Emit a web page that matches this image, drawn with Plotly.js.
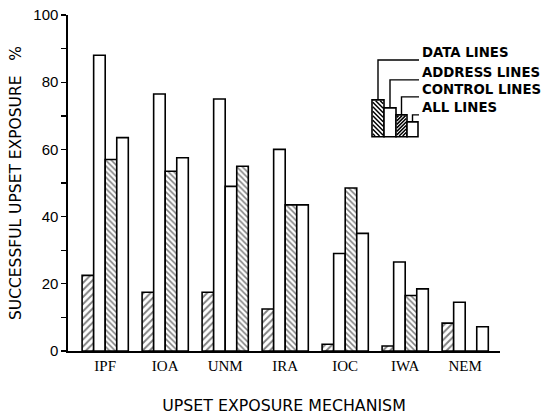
<!DOCTYPE html>
<html>
<head>
<meta charset="utf-8">
<script src="https://cdn.plot.ly/plotly-3.0.1.min.js"></script>
<style>html,body{margin:0;padding:0;background:#fff;}#chart{width:550px;height:415px;}</style>
</head>
<body>
<div id="chart"></div>
<script>
// ---- data ----
var mechanisms = ["IPF", "IOA", "UNM", "IRA", "IOC", "IWA", "NEM"];
var seriesNames = ["DATA LINES", "ADDRESS LINES", "CONTROL LINES", "ALL LINES"];
var dataLines    = [22.5, 17.5, 17.5, 12.5, 2.0, 1.5, 8.3];
var addressLines = [88.0, 76.5, 75.0, 60.0, 29.0, 26.5, 14.5];
var controlLines = [57.0, 53.5, 49.0, 43.5, 48.5, 16.5, 0];
var allLines     = [63.5, 57.5, 55.0, 43.5, 35.0, 18.5, 7.2];
// in the figure the UNM control/all bars carry each other's fill (control open, all hatched)
var swappedFill  = ["UNM"];
var yTickVals = [0, 10, 20, 30, 40, 50, 60, 70, 80, 90, 100];
var yTickText = ["0", "", "20", "", "40", "", "60", "", "80", "", "100"];

// ---- styling ----
var L = 68, R = 50, T = 15, B = 63.5, W = 550 - L - R, H = 415 - T - B;
function px(x) { return (x - L) / W; }
function py(y) { return (T + H - y) / H; }
var SANS = "DejaVu Sans, Liberation Sans, Arial, sans-serif";

var controlShape = mechanisms.map(function (m) { return swappedFill.indexOf(m) >= 0 ? "" : "\\"; });
var allShape = mechanisms.map(function (m) { return swappedFill.indexOf(m) >= 0 ? "\\" : ""; });

function barTrace(name, vals, shape, size) {
  var mk = { color: "white", line: { color: "black", width: 1.6 } };
  if (shape) mk.pattern = { shape: shape, size: size, solidity: 0.38, fgcolor: "black", bgcolor: "white", fillmode: "overlay" };
  return { type: "bar", name: name, x: mechanisms, y: vals, marker: mk, showlegend: false, hoverinfo: "x+y" };
}
var traces = [
  barTrace(seriesNames[0], dataLines, "/", 5),
  barTrace(seriesNames[1], addressLines, "", 5),
  barTrace(seriesNames[2], controlLines, controlShape, 4),
  barTrace(seriesNames[3], allLines, allShape, 4)
];

// ---- custom legend (mini bars with leader lines) ----
var shapes = [];
function rectPx(x0, y0, x1, y1) {
  shapes.push({ type: "rect", xref: "paper", yref: "paper", x0: px(x0), x1: px(x1), y0: py(y1), y1: py(y0),
    line: { color: "black", width: 1.6 }, fillcolor: "white", layer: "above" });
}
function hatchPx(x0, y0, x1, y1, step, dir) {
  var d = "";
  var w = x1 - x0, h = y1 - y0;
  for (var c = step / 2; c < w + h; c += step) {
    var ax = x0 + Math.max(0, c - h), bx = x0 + Math.min(c, w), ay, by;
    if (dir === "/") { ay = y1 - Math.min(c, h); by = y1 - Math.max(0, c - w); }
    else { ay = y0 + Math.min(c, h); by = y0 + Math.max(0, c - w); }
    d += "M" + px(ax) + "," + py(ay) + " L" + px(bx) + "," + py(by) + " ";
  }
  shapes.push({ type: "path", xref: "paper", yref: "paper", path: d, line: { color: "black", width: 1.5 }, layer: "above" });
}
function linePx(pts) {
  var d = "M" + pts.map(function (p) { return px(p[0]) + "," + py(p[1]); }).join(" L");
  shapes.push({ type: "path", xref: "paper", yref: "paper", path: d, line: { color: "black", width: 1.4 }, layer: "above" });
}
var legBase = 137;
var legBoxes = [[372, 100, 384, "/", 4.5], [384, 108, 396, "", 0], [396, 115, 407, "\\", 3.5], [407, 122, 418, "", 0]];
var legTextY = [53, 73, 90, 108];
var annotations = [];
legBoxes.forEach(function (b, i) {
  rectPx(b[0], b[1], b[2], legBase);
  if (b[3]) hatchPx(b[0] + 0.8, b[1] + 0.8, b[2] - 0.8, legBase - 0.8, b[4], b[3]);
  var cx = (b[0] + b[2]) / 2;
  var ly = legTextY[i] + 7;
  linePx([[cx, b[1]], [cx, ly], [419, ly]]);
  annotations.push({ xref: "paper", yref: "paper", x: px(420), y: py(legTextY[i]), xanchor: "left", yanchor: "middle",
    text: "<b>" + seriesNames[i] + "</b>", showarrow: false, font: { family: SANS, size: 13.3, color: "black" } });
});

var layout = {
  width: 550, height: 415,
  margin: { l: L, r: R, t: T, b: B },
  paper_bgcolor: "white", plot_bgcolor: "white",
  barmode: "group", bargap: 0.23, bargroupgap: 0,
  font: { family: SANS, color: "black" },
  xaxis: {
    range: [-0.62, 6.58], showgrid: false, zeroline: false,
    showline: true, linecolor: "black", linewidth: 1.6, ticks: "",
    tickfont: { family: "Liberation Serif, serif", size: 15, color: "black" },
    title: { text: "UPSET EXPOSURE MECHANISM", font: { family: SANS, size: 15.8, color: "black" }, standoff: 27 }
  },
  yaxis: {
    range: [0, 100], showgrid: false, zeroline: false,
    showline: true, linecolor: "black", linewidth: 1.6,
    ticks: "outside", ticklen: 5, tickwidth: 1.4, tickcolor: "black",
    tickvals: yTickVals, ticktext: yTickText,
    tickfont: { family: "Liberation Sans, Arial, sans-serif", size: 15, color: "black" },
    title: { text: "SUCCESSFUL UPSET EXPOSURE   %", font: { family: SANS, size: 15.5, color: "black" }, standoff: 8 }
  },
  shapes: shapes,
  annotations: annotations
};
Plotly.newPlot("chart", traces, layout, { displayModeBar: false, staticPlot: true });
</script>
</body>
</html>
